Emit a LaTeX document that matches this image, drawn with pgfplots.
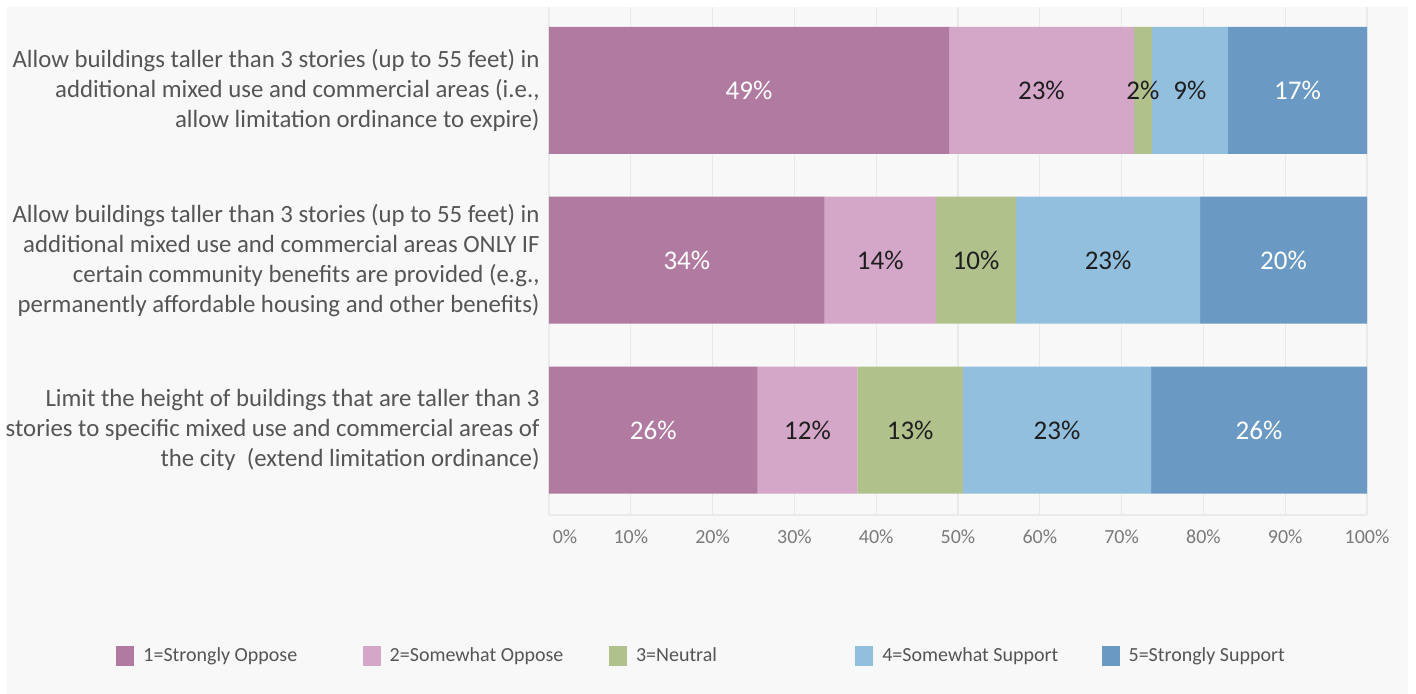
\documentclass[border=0pt]{standalone}
\usepackage{pgfplots}
\pgfplotsset{compat=1.18}
\usepackage{pgfplotstable}
\usepackage{fontspec}
\setmainfont{Carlito}
\definecolor{bg}{HTML}{F8F8F8}
\definecolor{gridc}{HTML}{EAEAEA}
\definecolor{c1}{HTML}{B07AA1}
\definecolor{c2}{HTML}{D4A6C8}
\definecolor{c3}{HTML}{B0C18C}
\definecolor{c4}{HTML}{93BFDF}
\definecolor{c5}{HTML}{6A9AC4}
\definecolor{labc}{HTML}{555555}
\definecolor{tickc}{HTML}{7A7A7A}
\definecolor{dark}{HTML}{1E1E1E}

\pgfplotstableread{
row so oppose neutral support ss
0 48.9 22.6 2.2 9.3 17.0
1 33.7 13.6 9.8 22.5 20.4
2 25.5 12.2 12.9 23.0 26.4
}\datatable

\begin{document}
\begin{tikzpicture}
\path[use as bounding box] (-274.5pt,-89.5pt) rectangle (433.5pt,257.5pt);
\fill[white] (-274.5pt,-89.5pt) rectangle (433.5pt,257.5pt);
\fill[bg] (-271pt,-89.5pt) rectangle (429.5pt,254pt);
\begin{axis}[
  at={(0,0)}, anchor=south west,
  scale only axis, width=409pt, height=254pt,
  xbar stacked, bar width=63.5pt,
  xmin=0, xmax=100, ymin=-0.49, ymax=2.50, y dir=reverse,
  xtick={0,10,...,100},
  xticklabels={\hspace*{16pt}0\%,10\%,20\%,30\%,40\%,50\%,60\%,70\%,80\%,90\%,100\%},
  ytick={0,1,2},
  yticklabels={{Allow buildings taller than 3 stories (up to 55 feet) in\\additional mixed use and commercial areas (i.e.,\\allow limitation ordinance to expire)},
               {Allow buildings taller than 3 stories (up to 55 feet) in\\additional mixed use and commercial areas ONLY IF\\certain community benefits are provided (e.g.,\\permanently affordable housing and other benefits)},
               {Limit the height of buildings that are taller than 3\\stories to specific mixed use and commercial areas of\\the city~ (extend limitation ordinance)}},
  yticklabel style={align=right, inner sep=0pt, xshift=-4.5pt, text=labc, font=\fontsize{12.4}{15}\selectfont},
  xticklabel style={anchor=center, inner sep=0pt, yshift=-11pt, text=tickc, font=\fontsize{10}{12}\selectfont},
  major tick length=0pt,
  xmajorgrids, grid style={gridc, line width=0.6pt},
  separate axis lines,
  axis x line*=bottom, axis y line*=left,
  x axis line style={draw=gridc, line width=0.6pt, -},
  y axis line style={draw=none},
  legend columns=5,
  legend style={at={(-0.5293,-0.2776)}, anchor=west, draw=none, fill=none, inner sep=0pt,
    font=\fontsize{10}{12}\selectfont, text=labc,
    /tikz/every odd column/.append style={column sep=2.5pt},
    /tikz/every even column/.append style={column sep=0pt}},
]
\addplot[fill=c1, draw=none, legend image code/.code={\fill[c1] (0pt,-5pt) rectangle (9pt,5pt);}] table[x=so, y=row] {\datatable};
\addlegendentry{\makebox[107.65pt][l]{1=Strongly Oppose}}
\addplot[fill=c2, draw=none, legend image code/.code={\fill[c2] (0pt,-5pt) rectangle (9pt,5pt);}] table[x=oppose, y=row] {\datatable};
\addlegendentry{\makebox[107.65pt][l]{2=Somewhat Oppose}}
\addplot[fill=c3, draw=none, legend image code/.code={\fill[c3] (0pt,-5pt) rectangle (9pt,5pt);}] table[x=neutral, y=row] {\datatable};
\addlegendentry{\makebox[107.65pt][l]{3=Neutral}}
\addplot[fill=c4, draw=none, legend image code/.code={\fill[c4] (0pt,-5pt) rectangle (9pt,5pt);}] table[x=support, y=row] {\datatable};
\addlegendentry{\makebox[107.65pt][l]{4=Somewhat Support}}
\addplot[fill=c5, draw=none, legend image code/.code={\fill[c5] (0pt,-5pt) rectangle (9pt,5pt);}] table[x=ss, y=row] {\datatable};
\addlegendentry{\makebox[107.65pt][l]{5=Strongly Support}}
\end{axis}
\begin{axis}[
  at={(0,0)}, anchor=south west,
  scale only axis, width=409pt, height=254pt,
  xmin=0, xmax=100, ymin=-0.49, ymax=2.50, y dir=reverse,
  hide axis, clip=false,
]
\addplot[only marks, mark=none, nodes near coords, point meta=explicit symbolic,
  every node near coord/.append style={anchor=center, text=white, font=\fontsize{13.5}{15}\selectfont}]
  coordinates {(24.45,0) [49\%] (91.5,0) [17\%] (16.85,1) [34\%] (89.8,1) [20\%] (12.75,2) [26\%] (86.8,2) [26\%]};
\addplot[only marks, mark=none, nodes near coords, point meta=explicit symbolic,
  every node near coord/.append style={anchor=center, text=dark, font=\fontsize{13.5}{15}\selectfont}]
  coordinates {(60.2,0) [23\%] (72.6,0) [2\%] (78.35,0) [9\%] (40.5,1) [14\%] (52.2,1) [10\%] (68.35,1) [23\%] (31.6,2) [12\%] (44.15,2) [13\%] (62.1,2) [23\%]};
\end{axis}
\end{tikzpicture}
\end{document}
